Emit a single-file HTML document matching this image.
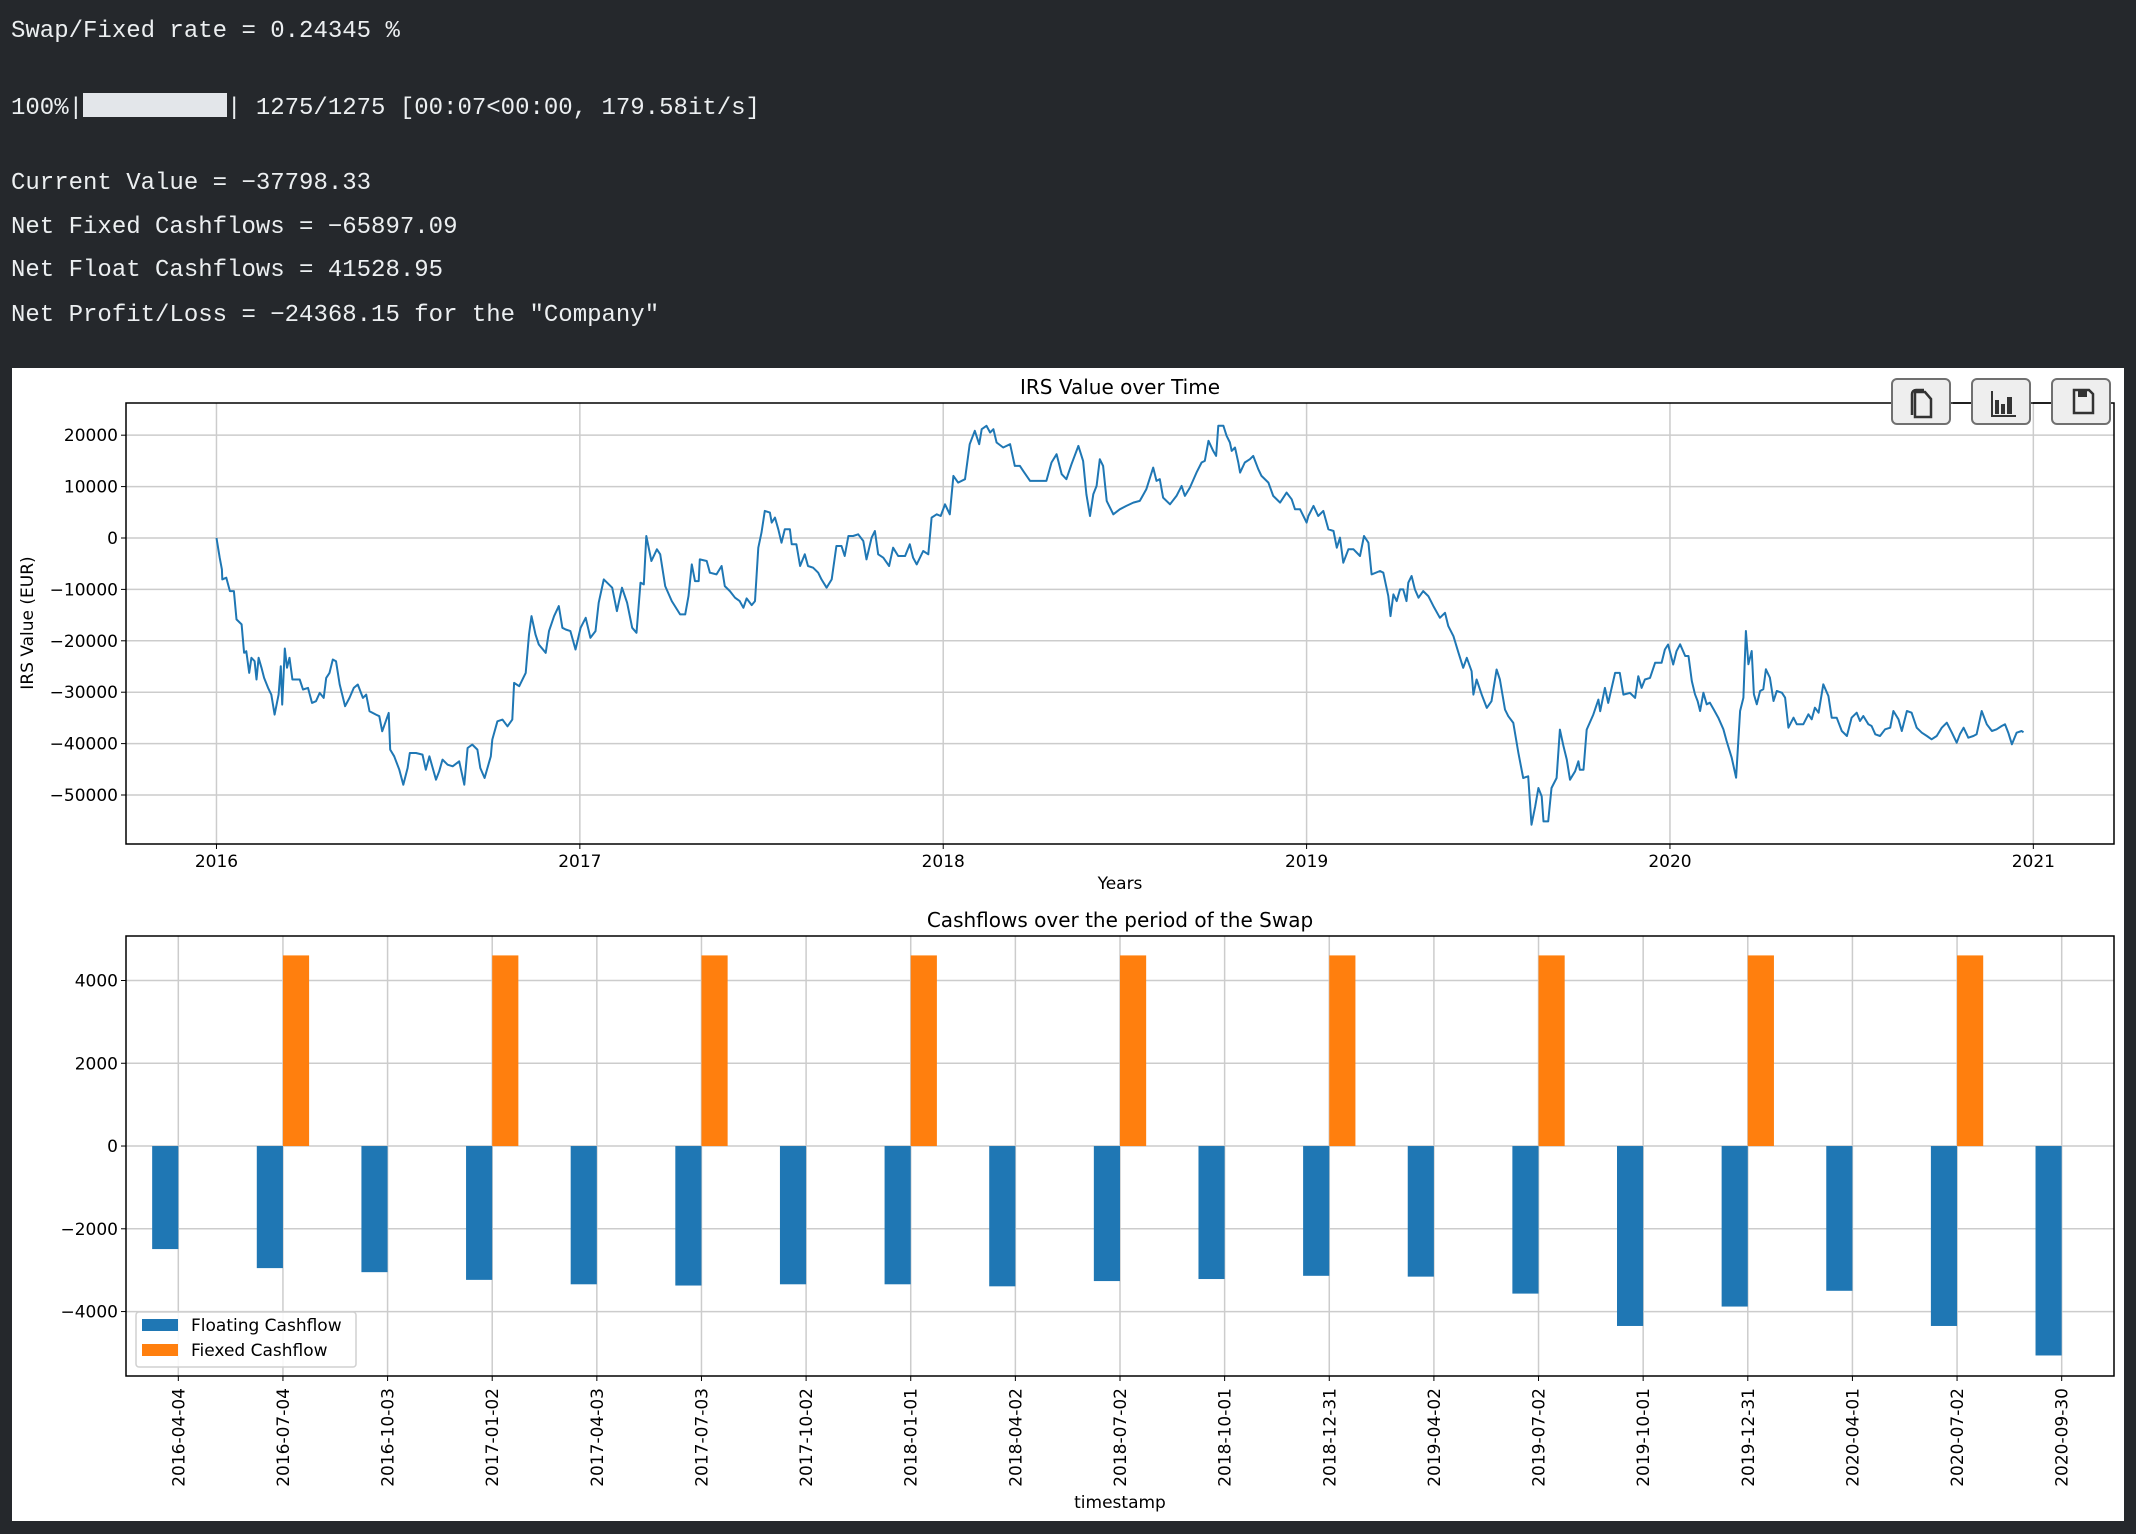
<!DOCTYPE html>
<html><head><meta charset="utf-8">
<style>
body{margin:0;background:#25282c;width:2136px;height:1534px;overflow:hidden;position:relative;font-family:"Liberation Mono",monospace;}
.con{position:absolute;left:11px;color:#eceff1;font-size:24px;line-height:30px;white-space:pre;}
#panel{position:absolute;left:12px;top:368px;width:2112px;height:1153px;background:#fff;}
svg{position:absolute;left:0;top:0;}
svg text{font-family:"DejaVu Sans","Liberation Sans",sans-serif;fill:#000;}
.btn{position:absolute;top:378px;width:60px;height:47px;background:#eeeeee;border:2px solid #707070;border-radius:6px;box-sizing:border-box;}
</style></head><body>
<div class="con" style="top:17px">Swap/Fixed rate = 0.24345 %</div>
<div class="con" style="top:93px">100%|<span style="display:inline-block;width:144px;height:24px;background:#e3e6ea;vertical-align:-3px"></span>| 1275/1275 [00:07&lt;00:00, 179.58it/s]</div>
<div class="con" style="top:169px">Current Value = −37798.33</div>
<div class="con" style="top:213px">Net Fixed Cashflows = −65897.09</div>
<div class="con" style="top:256px">Net Float Cashflows = 41528.95</div>
<div class="con" style="top:301px">Net Profit/Loss = −24368.15 for the "Company"</div>
<div id="panel"></div>
<svg id="chart" width="2136" height="1534"></svg>
<div class="btn" style="left:1891px"><svg width="60" height="47" style="position:static"><path d="M22 12 h10 l6 7 v18 h-16 z" fill="none" stroke="#333" stroke-width="2.5"/><path d="M19 35 v-21 a4 4 0 0 1 4 -4 h8" fill="none" stroke="#333" stroke-width="2.5"/></svg></div>
<div class="btn" style="left:1971px"><svg width="60" height="47" style="position:static"><path d="M19 11 v25 h24" fill="none" stroke="#333" stroke-width="2"/><rect x="22" y="20" width="4" height="14" fill="#333"/><rect x="28" y="24" width="4" height="10" fill="#333"/><rect x="34" y="17" width="5" height="17" fill="#333"/></svg></div>
<div class="btn" style="left:2051px"><svg width="60" height="47" style="position:static"><path d="M21 10 h15 l4 4 v19 h-19 z" fill="none" stroke="#333" stroke-width="2.5"/><rect x="25" y="10" width="9" height="7" fill="#333"/></svg></div>
<script>
// ---- line chart data ----
const lineT=[2016.000,2016.009,2016.015,2016.016,2016.027,2016.037,2016.048,2016.055,2016.069,2016.076,2016.082,2016.090,2016.096,2016.105,2016.110,2016.116,2016.124,2016.131,2016.142,2016.151,2016.160,2016.171,2016.177,2016.181,2016.188,2016.194,2016.201,2016.209,2016.229,2016.238,2016.252,2016.263,2016.274,2016.284,2016.295,2016.302,2016.311,2016.320,2016.329,2016.339,2016.354,2016.366,2016.378,2016.389,2016.403,2016.412,2016.421,2016.439,2016.448,2016.456,2016.474,2016.478,2016.489,2016.503,2016.514,2016.526,2016.532,2016.549,2016.567,2016.576,2016.586,2016.604,2016.613,2016.622,2016.636,2016.650,2016.668,2016.682,2016.691,2016.704,2016.718,2016.726,2016.738,2016.755,2016.759,2016.773,2016.787,2016.801,2016.814,2016.819,2016.833,2016.851,2016.860,2016.867,2016.878,2016.887,2016.906,2016.915,2016.929,2016.942,2016.952,2016.961,2016.974,2016.988,2017.002,2017.016,2017.029,2017.043,2017.052,2017.066,2017.089,2017.102,2017.116,2017.130,2017.144,2017.156,2017.167,2017.176,2017.183,2017.197,2017.212,2017.221,2017.235,2017.253,2017.276,2017.290,2017.299,2017.308,2017.317,2017.327,
2017.330,2017.349,2017.358,2017.376,2017.390,2017.399,2017.413,2017.427,2017.440,2017.450,2017.459,2017.473,2017.482,2017.491,2017.500,2017.509,2017.523,2017.528,2017.537,2017.546,2017.555,2017.564,2017.578,2017.583,2017.596,2017.606,2017.619,2017.628,2017.642,2017.656,2017.665,2017.679,2017.693,2017.706,2017.720,2017.729,2017.739,2017.752,2017.766,2017.780,2017.789,2017.803,2017.812,2017.821,2017.835,2017.851,2017.862,2017.876,2017.895,2017.908,2017.917,2017.927,2017.945,2017.959,2017.968,2017.982,2017.993,2018.005,2018.018,2018.028,2018.041,2018.060,2018.073,2018.087,2018.099,2018.106,2018.119,2018.129,2018.138,2018.147,2018.165,2018.184,2018.197,2018.211,2018.220,2018.239,2018.266,2018.284,2018.298,2018.312,2018.326,2018.339,2018.353,2018.372,2018.385,2018.394,2018.404,2018.413,2018.422,2018.431,2018.440,2018.450,2018.468,2018.486,2018.504,2018.523,2018.541,2018.559,2018.578,2018.587,2018.596,2018.605,2018.624,2018.642,2018.656,
2018.665,2018.679,2018.697,2018.711,2018.720,2018.730,2018.743,2018.751,2018.757,2018.771,2018.780,2018.789,2018.794,2018.803,2018.812,2018.817,2018.830,2018.844,2018.853,2018.867,2018.876,2018.895,2018.908,2018.927,2018.945,2018.959,2018.968,2018.982,2019.000,2019.005,2019.019,2019.032,2019.046,2019.060,2019.074,2019.083,2019.092,2019.101,2019.115,2019.129,2019.147,2019.158,2019.170,2019.179,2019.202,2019.211,2019.225,2019.231,2019.239,2019.248,2019.257,2019.266,2019.275,2019.280,2019.289,2019.298,2019.308,2019.321,2019.335,2019.349,2019.367,2019.381,2019.390,2019.404,2019.418,2019.431,2019.441,2019.454,2019.459,2019.468,2019.482,2019.496,2019.509,2019.523,2019.532,2019.546,2019.555,2019.569,2019.583,2019.596,2019.610,2019.619,2019.629,2019.638,2019.647,2019.652,2019.665,2019.674,2019.688,2019.697,2019.707,2019.716,2019.725,2019.739,2019.748,2019.752,2019.762,2019.771,2019.789,2019.803,2019.808,2019.821,2019.830,2019.849,2019.862,2019.872,2019.890,2019.904,2019.913,2019.922,2019.931,2019.945,2019.959,2019.977,2019.986,2019.995,2020.009,2020.018,
2020.028,2020.042,2020.051,2020.060,2020.069,2020.076,2020.083,2020.092,2020.101,2020.110,2020.120,2020.133,2020.147,2020.156,2020.170,2020.182,2020.193,2020.202,2020.209,2020.216,2020.225,2020.231,2020.239,2020.248,2020.257,2020.264,2020.275,2020.285,2020.294,2020.308,2020.317,2020.326,2020.340,2020.349,2020.367,2020.381,2020.390,2020.399,2020.409,2020.422,2020.436,2020.445,2020.459,2020.473,2020.487,2020.500,2020.514,2020.523,2020.532,2020.546,2020.555,2020.565,2020.578,2020.592,2020.606,2020.615,2020.629,2020.638,2020.652,2020.665,2020.679,2020.693,2020.707,2020.720,2020.734,2020.748,2020.762,2020.776,2020.789,2020.798,2020.808,2020.821,2020.835,2020.844,2020.858,2020.872,2020.886,2020.899,2020.913,2020.922,2020.931,2020.941,2020.954,2020.968,2020.973];
const lineV=[0,-3830,-6104,-8053,-7728,-10325,-10325,-15845,-16819,-22339,-22015,-26236,-23313,-23963,-27535,-23313,-25262,-27210,-29158,-30457,-34353,-30457,-24937,-32405,-21495,-25262,-23313,-27535,-27535,-29483,-29158,-32080,-31756,-30132,-31106,-27210,-26236,-23638,-23963,-28509,-32730,-31106,-29158,-28509,-31106,-30457,-33704,-34353,-34678,-37600,-34029,-41172,-42471,-45068,-47991,-44744,-41821,-41821,-42146,-45068,-42471,-47017,-45393,-43120,-44094,-44419,-43445,-47991,-40847,-40198,-41172,-44744,-46692,-42471,-39224,-35652,-35327,-36626,-35327,-28184,-28833,-26236,-18768,-15196,-18768,-20716,-22339,-18118,-15196,-13248,-17469,-17794,-18118,-21690,-17469,-15521,-19417,-18118,-12598,-8053,-9676,-14222,-9676,-12598,-17469,-18443,-8702,-9027,390,-4481,-2208,-3182,-9351,-12274,-14871,-14871,-11300,-5130,-8377,-8377,
-4156,-4481,-6754,-7078,-5455,-9351,-10325,-11624,-12274,-13572,-11754,-13053,-12274,-1883,1039,5260,4935,2987,3961,1688,-909,1688,1688,-1234,-1234,-5455,-3182,-5455,-5780,-6754,-8053,-9676,-8053,-1559,-1559,-3507,390,390,714,-584,-4156,65,1364,-3182,-3831,-5455,-1883,-3507,-3507,-1234,-3831,-5130,-2533,-3182,3961,4611,4286,6559,4611,12079,10780,11429,18248,20846,18248,21170,21820,20521,21170,18573,17599,18248,14027,14027,13053,11105,11105,11105,14676,16300,12404,11429,14352,17923,15001,8507,4286,8507,10131,15326,14027,7208,4611,5585,6234,6884,7208,9481,13702,11105,11429,7858,6559,8182,10131,
8182,9806,12728,14676,15001,18897,16949,15975,21820,21820,19872,18573,16949,17599,14676,12728,14676,15326,15975,13378,12079,10780,8182,6884,8832,7533,5585,5585,2987,4286,6234,4286,5260,1688,1364,-1883,65,-4806,-2208,-2208,-3507,390,-909,-7078,-6429,-6754,-11300,-15196,-10975,-12274,-10001,-10001,-12274,-8702,-7403,-10001,-11624,-10325,-11300,-13248,-15521,-14547,-17144,-19092,-22339,-25262,-23313,-25911,-30457,-27535,-30457,-33054,-31756,-25586,-27535,-33379,-34678,-35976,-41821,-46692,-46367,-55783,-52212,-48640,-50264,-55134,-55134,-48640,-46692,-37275,-40522,-43120,-47017,-45393,-43445,-45068,-45068,-37275,-34353,-31431,-33704,-29158,-32080,-26236,-26236,-30457,-30132,-31106,-26885,-29158,-27535,-27210,-24288,-24288,-21690,-20716,-24612,-22015,
-20687,-22957,-22957,-27821,-30415,-31712,-33657,-30090,-32360,-32036,-33333,-34954,-37224,-39494,-42736,-46627,-33657,-31063,-18093,-24578,-21984,-30415,-32360,-29766,-29442,-25551,-27172,-31712,-29766,-30090,-31063,-36900,-34954,-36251,-36251,-34306,-35278,-33009,-33981,-28469,-30739,-34954,-34954,-37548,-38521,-34954,-33981,-35603,-34630,-36251,-36575,-38197,-38521,-37224,-36900,-33657,-35278,-37548,-33657,-33981,-36900,-37873,-38521,-39170,-38521,-36900,-35927,-37873,-39818,-38197,-36900,-38845,-38521,-38197,-33657,-36251,-37548,-37224,-36575,-36251,-37873,-40142,-37873,-37548,-37800];
const lineYTicks=[20000,10000,0,-10000,-20000,-30000,-40000,-50000];
const lineXTicks=[2016,2017,2018,2019,2020,2021];
// ---- bar chart data ----
const barDates=["2016-04-04","2016-07-04","2016-10-03","2017-01-02","2017-04-03","2017-07-03","2017-10-02","2018-01-01","2018-04-02","2018-07-02","2018-10-01","2018-12-31","2019-04-02","2019-07-02","2019-10-01","2019-12-31","2020-04-01","2020-07-02","2020-09-30"];
const floatingCF=[-2490,-2950,-3048,-3234,-3341,-3371,-3341,-3341,-3390,-3263,-3214,-3136,-3156,-3566,-4348,-3879,-3498,-4348,-5061];
const fixedCF=[0,4606,0,4606,0,4606,0,4606,0,4606,0,4606,0,4606,0,4606,0,4606,0];
const barYTicks=[4000,2000,0,-2000,-4000];

const NS="http://www.w3.org/2000/svg";
const svg=document.getElementById('chart');
function mk(tag,attrs,parent){const e=document.createElementNS(NS,tag);for(const k in attrs)e.setAttribute(k,attrs[k]);(parent||svg).appendChild(e);return e;}
function txt(s,attrs){const e=mk('text',attrs);e.textContent=s;return e;}

// line axes
const L={x0:126,x1:2114,y0:403,y1:844,t0:2015.751,t1:2021.222,v0:26260,v1:-59530};
const lx=t=>L.x0+(t-L.t0)/(L.t1-L.t0)*(L.x1-L.x0);
const ly=v=>L.y0+(v-L.v0)/(L.v1-L.v0)*(L.y1-L.y0);
lineYTicks.forEach(v=>{
  const g=mk('line',{x1:L.x0,x2:L.x1,y1:ly(v),y2:ly(v),stroke:'#cccccc','stroke-width':1.5});
  
  mk('line',{x1:L.x0-5,x2:L.x0,y1:ly(v),y2:ly(v),stroke:'#000','stroke-width':1});
  const t=txt(String(v).replace('-','\u2212'),{x:L.x0-8,y:ly(v)+6,'text-anchor':'end','font-size':17});
  
});
lineXTicks.forEach(y=>{
  const g=mk('line',{x1:lx(y),x2:lx(y),y1:L.y0,y2:L.y1,stroke:'#cccccc','stroke-width':1.5});
  
  mk('line',{x1:lx(y),x2:lx(y),y1:L.y1,y2:L.y1+5,stroke:'#000','stroke-width':1});
  const t=txt(String(y),{x:lx(y),y:L.y1+23,'text-anchor':'middle','font-size':17});
  
});
let d='';lineT.forEach((t,i)=>{d+=(i?'L':'M')+lx(t).toFixed(1)+' '+ly(lineV[i]).toFixed(1);});
const path=mk('path',{d:d,fill:'none',stroke:'#1f77b4','stroke-width':2,'stroke-linejoin':'round'});

const f1=mk('rect',{x:L.x0,y:L.y0,width:L.x1-L.x0,height:L.y1-L.y0,fill:'none',stroke:'#000','stroke-width':1.5});

let e=txt('IRS Value over Time',{x:1120,y:394,'text-anchor':'middle','font-size':20});

e=txt('Years',{x:1120,y:889,'text-anchor':'middle','font-size':17});

e=txt('IRS Value (EUR)',{x:0,y:0,'text-anchor':'middle','font-size':17,transform:'translate(33,623) rotate(-90)'});


// bar axes
const B={x0:126,x1:2114,y0:936,y1:1376,v0:5075,v1:-5557};
const n=barDates.length;
const bstep=(B.x1-B.x0)/n;
const bx=i=>B.x0+(i+0.5)*bstep;
const by=v=>B.y0+(v-B.v0)/(B.v1-B.v0)*(B.y1-B.y0);
const bw=bstep*0.25;
barYTicks.forEach(v=>{
  const g=mk('line',{x1:B.x0,x2:B.x1,y1:by(v),y2:by(v),stroke:'#cccccc','stroke-width':1.5});
  
  mk('line',{x1:B.x0-5,x2:B.x0,y1:by(v),y2:by(v),stroke:'#000','stroke-width':1});
  const t=txt(String(v).replace('-','\u2212'),{x:B.x0-8,y:by(v)+6,'text-anchor':'end','font-size':17});
  
});
barDates.forEach((s,i)=>{
  const g=mk('line',{x1:bx(i),x2:bx(i),y1:B.y0,y2:B.y1,stroke:'#cccccc','stroke-width':1.5});
  
});
barDates.forEach((s,i)=>{
  const v=floatingCF[i];
  const r=mk('rect',{x:bx(i)-bw,y:Math.min(by(0),by(v)),width:bw,height:Math.abs(by(v)-by(0)),fill:'#1f77b4'});
  
  const w=fixedCF[i];
  if(w!==0){
    const r2=mk('rect',{x:bx(i),y:Math.min(by(0),by(w)),width:bw,height:Math.abs(by(w)-by(0)),fill:'#ff7f0e'});
    
  }
  mk('line',{x1:bx(i),x2:bx(i),y1:B.y1,y2:B.y1+5,stroke:'#000','stroke-width':1});
  const t=txt(s,{x:0,y:0,'text-anchor':'end','font-size':17,transform:'translate('+(bx(i)+6)+','+(B.y1+12)+') rotate(-90)'});
  
});
const f2=mk('rect',{x:B.x0,y:B.y0,width:B.x1-B.x0,height:B.y1-B.y0,fill:'none',stroke:'#000','stroke-width':1.5});

e=txt('Cashflows over the period of the Swap',{x:1120,y:927,'text-anchor':'middle','font-size':20});

e=txt('timestamp',{x:1120,y:1508,'text-anchor':'middle','font-size':17});

// legend
const lg=mk('rect',{x:136,y:1312,width:220,height:55,fill:'#fff','fill-opacity':0.85,stroke:'#d0d0d0','stroke-width':1.5,rx:3});

mk('rect',{x:142,y:1319,width:36,height:12,fill:'#1f77b4'});
mk('rect',{x:142,y:1344,width:36,height:12,fill:'#ff7f0e'});
e=txt('Floating Cashflow',{x:191,y:1331,'font-size':17});

e=txt('Fiexed Cashflow',{x:191,y:1356,'font-size':17});

// toolbar connecting line
mk('line',{x1:1953,x2:1971,y1:403,y2:403,stroke:'#000','stroke-width':1.5});
mk('line',{x1:2033,x2:2051,y1:403,y2:403,stroke:'#000','stroke-width':1.5});
</script>
</body></html>
